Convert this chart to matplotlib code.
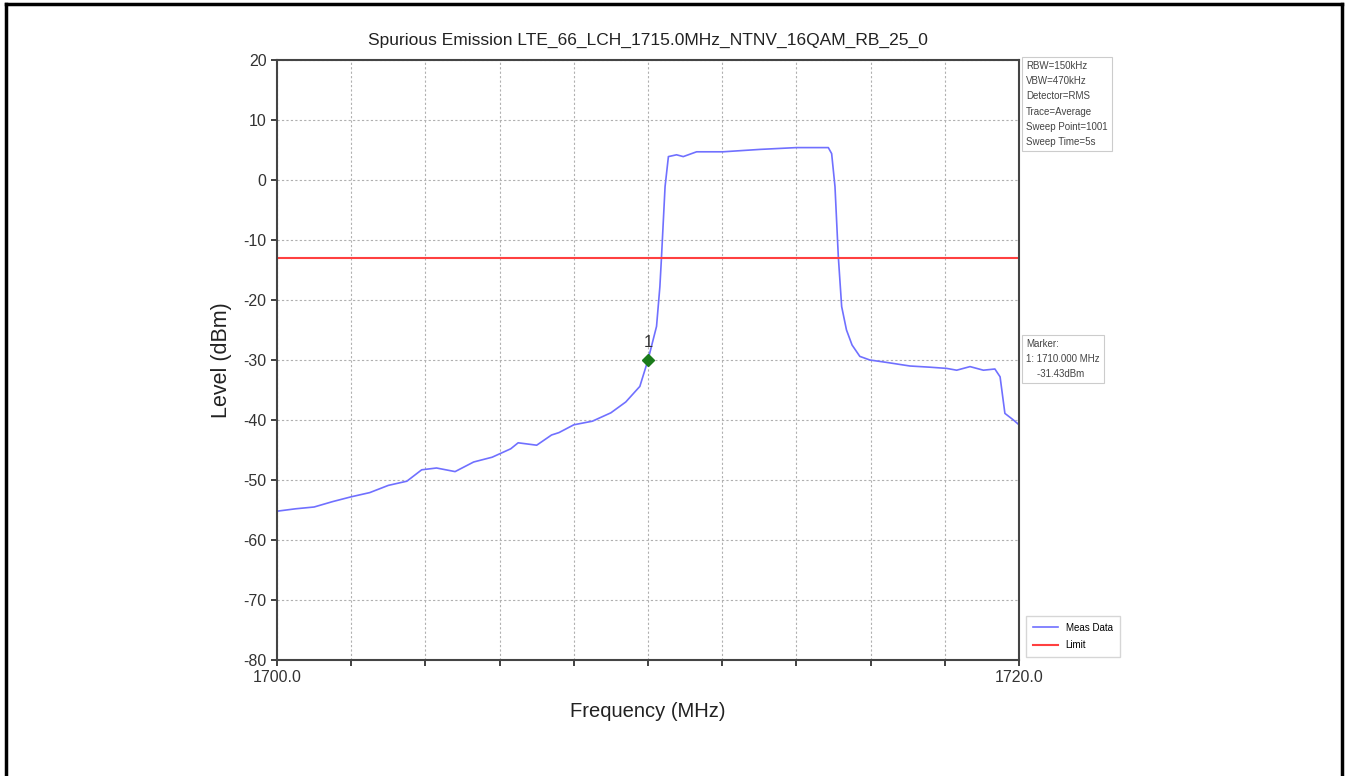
import numpy as np
import matplotlib.pyplot as plt
from matplotlib.lines import Line2D

plt.rcParams['font.family'] = ['Liberation Sans', 'DejaVu Sans']
plt.rcParams['axes.unicode_minus'] = False

# trace
freq = [1700.0, 1700.5, 1701.0, 1701.5, 1702.0, 1702.5, 1703.0, 1703.5, 1703.9, 1704.3,
        1704.8, 1705.3, 1705.8, 1706.3, 1706.5, 1707.0, 1707.4, 1707.6, 1708.0, 1708.5,
        1709.0, 1709.4, 1709.78, 1710.0, 1710.23, 1710.32, 1710.36, 1710.46, 1710.55,
        1710.77, 1710.95, 1711.31, 1712.02, 1713.02, 1714.0, 1714.86, 1714.95, 1715.04,
        1715.13, 1715.22, 1715.35, 1715.5, 1715.71, 1715.98, 1716.43, 1717.06, 1717.6,
        1718.05, 1718.32, 1718.68, 1719.04, 1719.35, 1719.49, 1719.62, 1719.85, 1720.0]
level = [-55.2, -54.8, -54.5, -53.6, -52.8, -52.1, -50.9, -50.2, -48.3, -48.0,
         -48.6, -47.0, -46.2, -44.8, -43.8, -44.2, -42.5, -42.1, -40.8, -40.2,
         -38.8, -37.0, -34.4, -30.0, -24.4, -17.8, -13.3, -1.1, 3.9,
         4.2, 3.9, 4.7, 4.7, 5.1, 5.4, 5.4, 4.4, -1.1,
         -12.8, -21.1, -25.0, -27.5, -29.4, -30.0, -30.4, -31.0, -31.2,
         -31.4, -31.7, -31.1, -31.7, -31.5, -32.8, -38.9, -40.0, -40.8]
limit = -13.0
marker_f = 1710.0
marker_lvl = -30.0

title = 'Spurious Emission LTE_66_LCH_1715.0MHz_NTNV_16QAM_RB_25_0'
settings = 'RBW=150kHz\nVBW=470kHz\nDetector=RMS\nTrace=Average\nSweep Point=1001\nSweep Time=5s'
marker_txt = 'Marker:\n1: 1710.000 MHz\n    -31.43dBm'

fig = plt.figure(figsize=(13.46, 7.76), dpi=100)
ax = fig.add_axes([277/1346, 1-660/776, 742/1346, 600/776])

ax.plot(freq, level, color='#7070ff', lw=1.2, label='Meas Data')
ax.axhline(limit, color='#ff4040', lw=1.5, label='Limit')
ax.plot(marker_f, marker_lvl, marker='D', color='#1a7a1a', ms=6.5)
ax.text(marker_f, marker_lvl + 1.6, '1', ha='center', va='bottom', fontsize=12, color='#333333')

ax.set_xlim(1700, 1720)
ax.set_ylim(-80, 20)
xt = np.arange(1700, 1721, 2)
ax.set_xticks(xt)
ax.set_xticklabels(['1700.0'] + [''] * 9 + ['1720.0'])
ax.set_yticks(np.arange(-80, 21, 10))
ax.grid(True, ls=(0, (2, 2)), color='#b0b0b0', lw=0.8)
ax.tick_params(labelsize=11.5, colors='#333333', length=4, width=1.3)
for s in ax.spines.values():
    s.set_color('#444444')
    s.set_linewidth(1.5)

ax.set_title(title, fontsize=12.5, color='#222222', pad=11)
ax.set_ylabel('Level (dBm)', fontsize=15.5, color='#222222', labelpad=8)
ax.set_xlabel('Frequency (MHz)', fontsize=14.5, color='#222222', labelpad=12)

box = dict(boxstyle='square,pad=0.4', fc='white', ec='#cccccc', lw=0.8)
fig.text(1026/1346, 1-61/776, settings, fontsize=7, color='#444444', va='top', ha='left',
         linespacing=1.65, bbox=box)
fig.text(1026/1346, 1-339/776, marker_txt, fontsize=7, color='#444444', va='top', ha='left',
         linespacing=1.65, bbox=box)

fig.legend(loc='lower left', bbox_to_anchor=(1021/1346, 1-662/776), fontsize=7,
           frameon=True, edgecolor='#cccccc', fancybox=False, handlelength=2.6,
           borderpad=0.7, labelspacing=0.8)

# frame around the picture (no bottom edge in the reference)
fig.add_artist(Line2D([6/1346, 6/1346], [0, 1-4/776], transform=fig.transFigure, color='black', lw=2.5))
fig.add_artist(Line2D([6/1346, 1342/1346], [1-4/776, 1-4/776], transform=fig.transFigure, color='black', lw=2.5))
fig.add_artist(Line2D([1342/1346, 1342/1346], [0, 1-4/776], transform=fig.transFigure, color='black', lw=2.5))

fig.savefig('out.png', dpi=100)
